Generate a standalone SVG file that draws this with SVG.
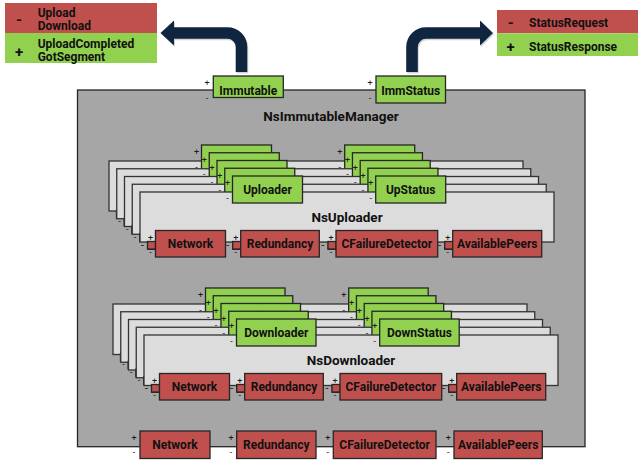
<svg xmlns="http://www.w3.org/2000/svg" xmlns:xlink="http://www.w3.org/1999/xlink" width="640" height="464" viewBox="0 0 640 464">
<style>
.bg{fill:#ffffff}
.mb{fill:#a6a6a6;stroke:#262626;stroke-width:1.3}
.wb{fill:#dcdcdc;stroke:#333333;stroke-width:1.3}
.gn{fill:#92d050;stroke:#262626;stroke-width:1.3}
.rd{fill:#c0504d;stroke:#262626;stroke-width:1.3}
.lbl{font-family:Roboto,"Liberation Sans",sans-serif;font-weight:700;font-size:12px;fill:#111111;text-anchor:middle}
.ttl{font-family:Roboto,"Liberation Sans",sans-serif;font-weight:700;font-size:13.5px;fill:#111111;text-anchor:middle}
.lg{font-family:Roboto,"Liberation Sans",sans-serif;font-weight:700;font-size:12px;fill:#111111}
.sym{font-family:Roboto,"Liberation Sans",sans-serif;font-weight:700;font-size:15px;fill:#111111;text-anchor:middle}
.pm{font-family:Roboto,"Liberation Sans",sans-serif;font-size:9px;fill:#1a1a1a;text-anchor:middle}
.arr{fill:none;stroke:#10253f;stroke-width:11.6}
.arrh{fill:#10253f}
.sh{fill:none;stroke:#d4d4d4;stroke-width:11.6}
.shh{fill:#d4d4d4}
</style>
<rect class="bg" x="0" y="0" width="640" height="464"/>

<!-- legends -->
<g id="legend-immutable">
  <rect x="5" y="3" width="152" height="30" fill="#c0504d"/>
  <rect x="5" y="33" width="152" height="30" fill="#92d050"/>
  <text class="sym" x="19" y="24.8">-</text>
  <text class="sym" x="19" y="56.7">+</text>
  <text class="lg" x="37.7" y="16.7">Upload</text>
  <text class="lg" x="37.7" y="30">Download</text>
  <text class="lg" x="37.7" y="48">UploadCompleted</text>
  <text class="lg" x="37.7" y="61.3">GotSegment</text>
</g>
<g id="legend-status">
  <rect x="497" y="10" width="141" height="23.3" fill="#c0504d"/>
  <rect x="497" y="33.3" width="141" height="22.7" fill="#92d050"/>
  <text class="sym" x="510.7" y="27.5">-</text>
  <text class="sym" x="510.7" y="52">+</text>
  <text class="lg" x="529" y="27.3">StatusRequest</text>
  <text class="lg" x="529" y="50.7">StatusResponse</text>
</g>

<!-- main container -->
<g id="nsImmutableManager">
  <rect class="mb" x="77.5" y="90" width="507.5" height="356.7"/>
  <text class="ttl" x="331" y="120.5">NsImmutableManager</text>
</g>

<g id="immutable">
  <rect class="gn" x="213.3" y="76" width="70" height="21.5"/>
  <text class="lbl" x="248.3" y="95">Immutable</text>
  <text class="pm" x="207" y="85.7">+</text>
  <text class="pm" x="207" y="100.7">-</text>
</g>
<g id="immStatus">
  <rect class="gn" x="376" y="76" width="69.5" height="27"/>
  <text class="lbl" x="410.7" y="95">ImmStatus</text>
  <text class="pm" x="370" y="85.7">+</text>
  <text class="pm" x="370" y="100.7">-</text>
</g>

<!-- NsUploader stack -->
<g id="nsUploader-stack">
  <use xlink:href="#upCore" href="#upCore" transform="translate(-31,-31)"/>
  <use xlink:href="#upCore" href="#upCore" transform="translate(-23.25,-23.25)"/>
  <use xlink:href="#upCore" href="#upCore" transform="translate(-15.5,-15.5)"/>
  <use xlink:href="#upCore" href="#upCore" transform="translate(-7.75,-7.75)"/>
</g>
<g id="nsUploader">
  <g id="upCore">
    <rect class="wb" x="140" y="192" width="414" height="50"/>
    <text class="ttl" x="347" y="222">NsUploader</text>
    <g id="uploader">
      <rect class="gn" x="232.5" y="176" width="70" height="27"/>
      <text class="lbl" x="267.5" y="193.8">Uploader</text>
      <text class="pm" x="227.5" y="186.3">+</text>
      <text class="pm" x="227.5" y="200.7">-</text>
    </g>
    <g id="upStatus">
      <rect class="gn" x="375.7" y="176" width="70" height="27"/>
      <text class="lbl" x="410.7" y="193.8">UpStatus</text>
      <text class="pm" x="370.7" y="186.3">+</text>
      <text class="pm" x="370.7" y="200.7">-</text>
    </g>
    <g id="up-network">
      <rect class="rd" x="147.5" y="241.5" width="8" height="7.5"/>
      <rect class="rd" x="155.5" y="230.5" width="70" height="26.5"/>
      <text class="lbl" x="190.5" y="248">Network</text>
      <text class="pm" x="150.5" y="240.5">+</text>
      <text class="pm" x="150.5" y="255.4">-</text>
    </g>
    <g id="up-redundancy">
      <rect class="rd" x="232.7" y="241.5" width="8" height="7.5"/>
      <rect class="rd" x="240.7" y="230.5" width="78.6" height="26.5"/>
      <text class="lbl" x="280" y="248">Redundancy</text>
      <text class="pm" x="235.7" y="240.5">+</text>
      <text class="pm" x="227.2" y="247.9">-</text>
      <text class="pm" x="235.7" y="255.4">-</text>
    </g>
    <g id="up-cfailuredetector">
      <rect class="rd" x="328" y="241.5" width="8" height="7.5"/>
      <rect class="rd" x="336" y="230.5" width="101.7" height="26.5"/>
      <text class="lbl" x="386.85" y="248">CFailureDetector</text>
      <text class="pm" x="331" y="240.5">+</text>
      <text class="pm" x="322.5" y="247.9">-</text>
      <text class="pm" x="331" y="255.4">-</text>
    </g>
    <g id="up-availablepeers">
      <rect class="rd" x="444.7" y="241.5" width="8" height="7.5"/>
      <rect class="rd" x="452.7" y="230.5" width="89" height="26.5"/>
      <text class="lbl" x="497.2" y="248">AvailablePeers</text>
      <text class="pm" x="447.7" y="240.5">+</text>
      <text class="pm" x="439.2" y="247.9">-</text>
      <text class="pm" x="447.7" y="255.4">-</text>
    </g>
  </g>
  <text class="pm" x="142" y="247.9">-</text>
</g>

<!-- NsDownloader stack -->
<g id="nsDownloader-stack">
  <use xlink:href="#downCore" href="#downCore" transform="translate(-31,-31)"/>
  <use xlink:href="#downCore" href="#downCore" transform="translate(-23.25,-23.25)"/>
  <use xlink:href="#downCore" href="#downCore" transform="translate(-15.5,-15.5)"/>
  <use xlink:href="#downCore" href="#downCore" transform="translate(-7.75,-7.75)"/>
</g>
<g id="nsDownloader">
  <g id="downCore" transform="translate(4,143)">
    <rect class="wb" x="140" y="192" width="414" height="50.5"/>
    <text class="ttl" x="347" y="222">NsDownloader</text>
    <g id="downloader">
      <rect class="gn" x="232.5" y="176" width="79.5" height="27"/>
      <text class="lbl" x="272.25" y="193.8">Downloader</text>
      <text class="pm" x="227.5" y="186.3">+</text>
      <text class="pm" x="227.5" y="200.7">-</text>
    </g>
    <g id="downStatus">
      <rect class="gn" x="375.7" y="176" width="79.5" height="27"/>
      <text class="lbl" x="415.45" y="193.8">DownStatus</text>
      <text class="pm" x="370.7" y="186.3">+</text>
      <text class="pm" x="370.7" y="200.7">-</text>
    </g>
    <g id="down-network">
      <rect class="rd" x="147.5" y="241.5" width="8" height="7.5"/>
      <rect class="rd" x="155.5" y="230.5" width="70" height="26.5"/>
      <text class="lbl" x="190.5" y="248">Network</text>
      <text class="pm" x="150.5" y="240.5">+</text>
      <text class="pm" x="150.5" y="255.4">-</text>
    </g>
    <g id="down-redundancy">
      <rect class="rd" x="232.7" y="241.5" width="8" height="7.5"/>
      <rect class="rd" x="240.7" y="230.5" width="78.6" height="26.5"/>
      <text class="lbl" x="280" y="248">Redundancy</text>
      <text class="pm" x="235.7" y="240.5">+</text>
      <text class="pm" x="227.2" y="247.9">-</text>
      <text class="pm" x="235.7" y="255.4">-</text>
    </g>
    <g id="down-cfailuredetector">
      <rect class="rd" x="328" y="241.5" width="8" height="7.5"/>
      <rect class="rd" x="336" y="230.5" width="101.7" height="26.5"/>
      <text class="lbl" x="386.85" y="248">CFailureDetector</text>
      <text class="pm" x="331" y="240.5">+</text>
      <text class="pm" x="322.5" y="247.9">-</text>
      <text class="pm" x="331" y="255.4">-</text>
    </g>
    <g id="down-availablepeers">
      <rect class="rd" x="444.7" y="241.5" width="8" height="7.5"/>
      <rect class="rd" x="452.7" y="230.5" width="89" height="26.5"/>
      <text class="lbl" x="497.2" y="248">AvailablePeers</text>
      <text class="pm" x="447.7" y="240.5">+</text>
      <text class="pm" x="439.2" y="247.9">-</text>
      <text class="pm" x="447.7" y="255.4">-</text>
    </g>
  </g>
  <text class="pm" x="146" y="390.9">-</text>
</g>

<!-- manager-level ports -->
<g id="mgr-network">
  <rect class="rd" x="140" y="431" width="70" height="27.5"/>
  <text class="lbl" x="175" y="449">Network</text>
  <text class="pm" x="134" y="441.3">+</text>
  <text class="pm" x="134" y="455.1">-</text>
</g>
<g id="mgr-redundancy">
  <rect class="rd" x="236.7" y="431" width="79.3" height="27.5"/>
  <text class="lbl" x="276.35" y="449">Redundancy</text>
  <text class="pm" x="231" y="441.3">+</text>
  <text class="pm" x="231" y="455.1">-</text>
</g>
<g id="mgr-cfailuredetector">
  <rect class="rd" x="333.3" y="431" width="102.7" height="27.5"/>
  <text class="lbl" x="384.65" y="449">CFailureDetector</text>
  <text class="pm" x="327.7" y="441.3">+</text>
  <text class="pm" x="327.7" y="455.1">-</text>
</g>
<g id="mgr-availablepeers">
  <rect class="rd" x="454" y="431" width="88.3" height="27.5"/>
  <text class="lbl" x="498.15" y="449">AvailablePeers</text>
  <text class="pm" x="448.3" y="441.3">+</text>
  <text class="pm" x="448.3" y="455.1">-</text>
</g>

<!-- connectors -->
<g id="connectors">
  <g transform="translate(1,1.5)">
    <path class="sh" d="M241.5,72 V47 A14,14 0 0 0 227.5,33 H173.5"/>
    <polygon class="shh" points="174,20.5 160.5,33 174,45.5"/>
    <path class="sh" d="M412,72 V47 A14,14 0 0 1 426,33 H480"/>
    <polygon class="shh" points="480,20.5 493,33 480,45.5"/>
  </g>
  <path class="arr" d="M241.5,72 V47 A14,14 0 0 0 227.5,33 H173.5"/>
  <polygon class="arrh" points="174,20.5 160.5,33 174,45.5"/>
  <path class="arr" d="M412,72 V47 A14,14 0 0 1 426,33 H480"/>
  <polygon class="arrh" points="480,20.5 493,33 480,45.5"/>
</g>
</svg>
